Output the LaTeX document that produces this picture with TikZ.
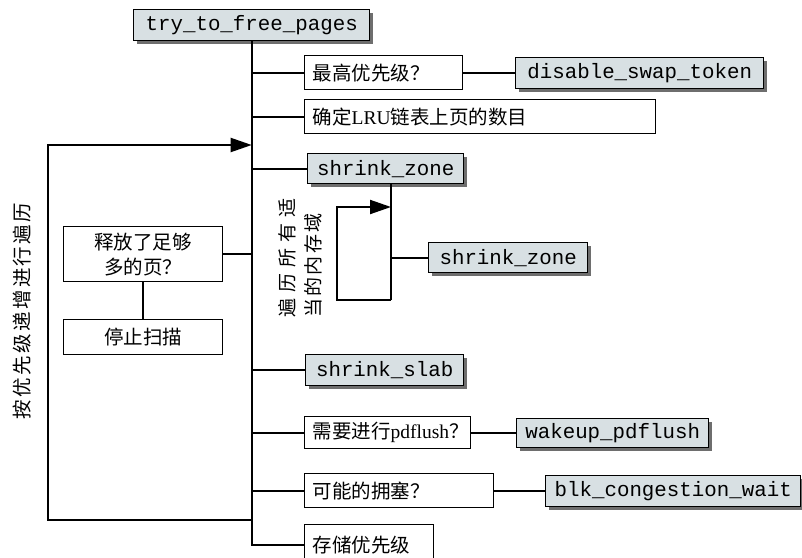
\documentclass[tikz,border=0pt]{standalone}
\usepackage{fontspec}
\setmainfont{Liberation Serif}
\setmonofont{Liberation Mono}
\newfontfamily\cjk{Noto Sans CJK SC}
\usetikzlibrary{shadows,arrows.meta}
\definecolor{boxgrey}{HTML}{D8E0E3}
\definecolor{shadowgrey}{HTML}{6E6E6E}
\newcommand\gapA{\hspace{2.4pt}}
\newcommand\gapB{\hspace{6pt}}
\newcommand\gapC{\hspace{2.2pt}}
\tikzset{
  fnbox/.style={draw=black, line width=1.4pt, fill=boxgrey,
    drop shadow={shadow xshift=3pt, shadow yshift=-3pt, fill=shadowgrey, opacity=1},
    font=\ttfamily\fontsize{20.8}{24}\selectfont, inner sep=0pt, anchor=north west},
  txbox/.style={draw=black, line width=1.4pt, fill=white,
    font=\fontsize{19.5}{25}\selectfont, inner xsep=8pt, inner ysep=0pt,
    align=left, anchor=north west},
  ctbox/.style={draw=black, line width=1.4pt, fill=white,
    font=\fontsize{19.5}{25}\selectfont, inner sep=0pt,
    align=center, anchor=north west},
  conn/.style={line width=2pt},
  loopar/.style={line width=2pt, -{Triangle[length=21pt,width=14pt]}},
  vlabel/.style={rotate=90, font=\cjk\fontsize{19.5}{26}\selectfont, inner sep=0pt},
}
\begin{document}
\begin{tikzpicture}[x=1pt,y=-1pt]
\useasboundingbox (0,0) rectangle (802,557);
\clip (0,0) rectangle (802,557);

% boxes
\node[fnbox, minimum width=236pt, minimum height=31pt] (try) at (133,9) {try\_to\_free\_pages};
\node[txbox, text width=142pt, minimum height=34pt] (q1) at (304,55) {{\cjk 最高优先级？}};
\node[fnbox, minimum width=248pt, minimum height=31pt] (dst) at (515,57) {disable\_swap\_token};
\node[txbox, text width=335pt, minimum height=34pt] (lru) at (304,99) {{\cjk 确定}LRU{\cjk 链表上页的数目}};
\node[fnbox, minimum width=156pt, minimum height=30pt] (sz1) at (307,153) {shrink\_zone};
\node[fnbox, minimum width=159pt, minimum height=30pt] (sz2) at (428,242) {shrink\_zone};
\node[ctbox, minimum width=159pt, minimum height=55pt] (enough) at (63,226) {{\cjk 释放了足够}\\{\cjk 多的页？}};
\node[ctbox, minimum width=159pt, minimum height=35pt] (stop) at (63,319) {{\cjk 停止扫描}};
\node[fnbox, minimum width=158pt, minimum height=31pt] (slab) at (305,354) {shrink\_slab};
\node[txbox, text width=150pt, minimum height=32pt] (pdf) at (304,416) {{\cjk 需要进行}pdflush{\cjk ？}};
\node[fnbox, minimum width=192pt, minimum height=29pt] (wake) at (516,418) {wakeup\_pdflush};
\node[txbox, text width=173pt, minimum height=34pt] (cong) at (304,473) {{\cjk 可能的拥塞？}};
\node[fnbox, minimum width=255pt, minimum height=31pt] (blk) at (545,475) {blk\_congestion\_wait};
\node[txbox, text width=113pt, minimum height=40pt] (store) at (304,524) {{\cjk 存储优先级}};

% labels
\node[vlabel] (llab) at (22,311) {按\gapA 优\gapA 先\gapA 级\gapA 递\gapA 增\gapA 进\gapA 行\gapA 遍\gapA 历};
\node[vlabel, align=left, font=\cjk\fontsize{19}{26}\selectfont] (ilab) at (300,258)
  {遍\gapB 历\gapB 所\gapB 有\gapB 适\\当\gapC 的\gapC 内\gapC 存\gapC 域};

% main trunk and branches
\draw[conn] (try.south) -- (try.south |- store.west) -- (store.west);
\draw[conn] (try.south |- q1.west) -- (q1.west);
\draw[conn] (try.south |- lru.west) -- (lru.west);
\draw[conn] (try.south |- sz1.west) -- (sz1.west);
\draw[conn] (try.south |- enough.east) -- (enough.east);
\draw[conn] (try.south |- slab.west) -- (slab.west);
\draw[conn] (try.south |- pdf.west) -- (pdf.west);
\draw[conn] (try.south |- cong.west) -- (cong.west);

\draw[conn] (q1.east) -- (q1.east -| dst.west);
\draw[conn] (pdf.east) -- (pdf.east -| wake.west);
\draw[conn] (cong.east) -- (cong.east -| blk.west);
\draw[conn] (enough.south) -- (stop.north);

% outer loop
\coordinate (lb) at (48,520);
\coordinate (la) at (48,145);
\draw[loopar] (try.south |- lb) -- (lb) -- (la) -- (try.south |- la);

% inner loop
\coordinate (ia) at (391,207);
\coordinate (ib) at (337,300);
\draw[conn] (ia |- sz1.south) -- (ia |- ib);
\draw[loopar] (ia |- ib) -- (ib) -- (ib |- ia) -- (ia);
\draw[conn] (ia |- sz2.west) -- (sz2.west);
\end{tikzpicture}
\end{document}
